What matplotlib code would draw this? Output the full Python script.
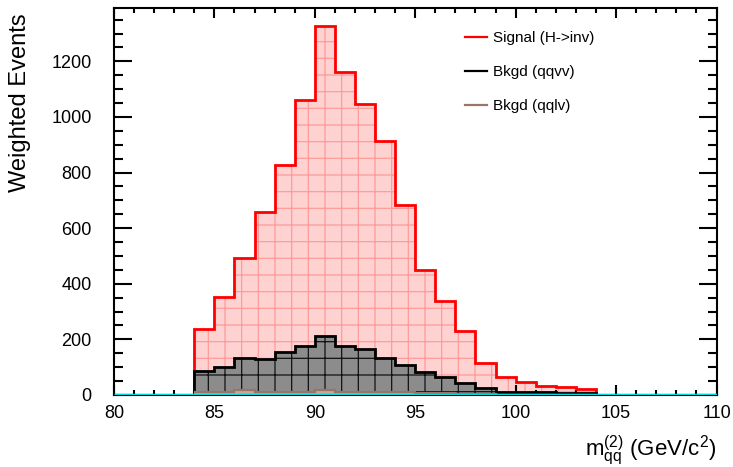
import numpy as np
import matplotlib
matplotlib.use("Agg")
import matplotlib.pyplot as plt
from matplotlib.lines import Line2D
from matplotlib.ticker import MultipleLocator

# binning: 1 GeV bins
edges = np.arange(84, 105, 1)
full_edges = np.arange(80, 111, 1)

signal_hinv = [238, 353, 491, 658, 829, 1062, 1326, 1162, 1046, 914,
               683, 449, 338, 231, 116, 66, 48, 33, 28, 22]
bkgd_qqvv = [86, 102, 133, 129, 155, 178, 212, 177, 165, 134,
             107, 81, 66, 44, 24, 12, 10, 9, 8, 7]
bkgd_qqlv = [12, 12, 18, 12, 12, 12, 18, 12, 12, 12,
             10, 8, 6, 4, 3, 0, 0, 0, 0, 0]
empty_hist = [0] * 30

plt.rcParams["font.family"] = ["Liberation Sans", "DejaVu Sans"]
plt.rcParams["mathtext.fontset"] = "custom"
plt.rcParams["mathtext.rm"] = "Liberation Sans"
plt.rcParams["mathtext.it"] = "Liberation Sans"
plt.rcParams["hatch.linewidth"] = 0.9

fig = plt.figure(figsize=(7.33, 4.67), dpi=100)
ax = fig.add_axes([0.1555, 0.1542, 0.822, 0.8287])

# signal
ax.stairs(signal_hinv, edges, fill=True, facecolor="#ffd2d2",
          edgecolor="#ff9a9a", hatch="+", linewidth=0, zorder=1)
ax.stairs(signal_hinv, edges, baseline=0, color="#ff0000", linewidth=2.0, zorder=2)

# qqvv background
ax.stairs(bkgd_qqvv, edges, fill=True, facecolor="#8c8c8c",
          edgecolor="#111111", hatch="+", linewidth=0, zorder=3)
ax.stairs(bkgd_qqvv, edges, baseline=0, color="black", linewidth=2.0, zorder=4)

# qqlv background
ax.stairs(bkgd_qqlv, edges, fill=True, facecolor="#c8a898",
          edgecolor="#8a6a5a", linewidth=0, zorder=5)
ax.stairs(bkgd_qqlv, edges, baseline=None, color="#9a7566", linewidth=1.6, zorder=6)

# empty histogram along the axis
ax.stairs(empty_hist, full_edges, baseline=None, color="#00d8e0", linewidth=2.5, zorder=7)

ax.set_xlim(80, 110)
ax.set_ylim(0, 1392)

ax.xaxis.set_major_locator(MultipleLocator(5))
ax.xaxis.set_minor_locator(MultipleLocator(1))
ax.yaxis.set_major_locator(MultipleLocator(200))
ax.yaxis.set_minor_locator(MultipleLocator(50))

ax.tick_params(axis="both", which="both", direction="in", top=True, right=True,
               width=1.5, labelsize=13)
ax.tick_params(axis="x", which="major", length=7.2, pad=7)
ax.tick_params(axis="x", which="minor", length=3.6)
ax.tick_params(axis="y", which="major", length=13, pad=16)
ax.tick_params(axis="y", which="minor", length=6.5)
for sp in ax.spines.values():
    sp.set_linewidth(1.5)

ax.set_ylabel("Weighted Events", fontsize=17, loc="top")
ax.yaxis.set_label_coords(-0.138, 0.985)
ax.set_xlabel(r"$\mathrm{m_{qq}^{(2)}}$ (GeV/c$^{2}$)", fontsize=16, loc="right", labelpad=8)

handles = [Line2D([], [], color="#ff0000", lw=1.6),
           Line2D([], [], color="black", lw=1.6),
           Line2D([], [], color="#9a7566", lw=1.6)]
labels = ["Signal (H->inv)", "Bkgd (qqvv)", "Bkgd (qqlv)"]
ax.legend(handles, labels, loc="upper left", bbox_to_anchor=(0.56, 0.975),
          frameon=False, fontsize=11, handlelength=1.45, handletextpad=0.4,
          labelspacing=1.3)

fig.savefig("out.png", dpi=100)
